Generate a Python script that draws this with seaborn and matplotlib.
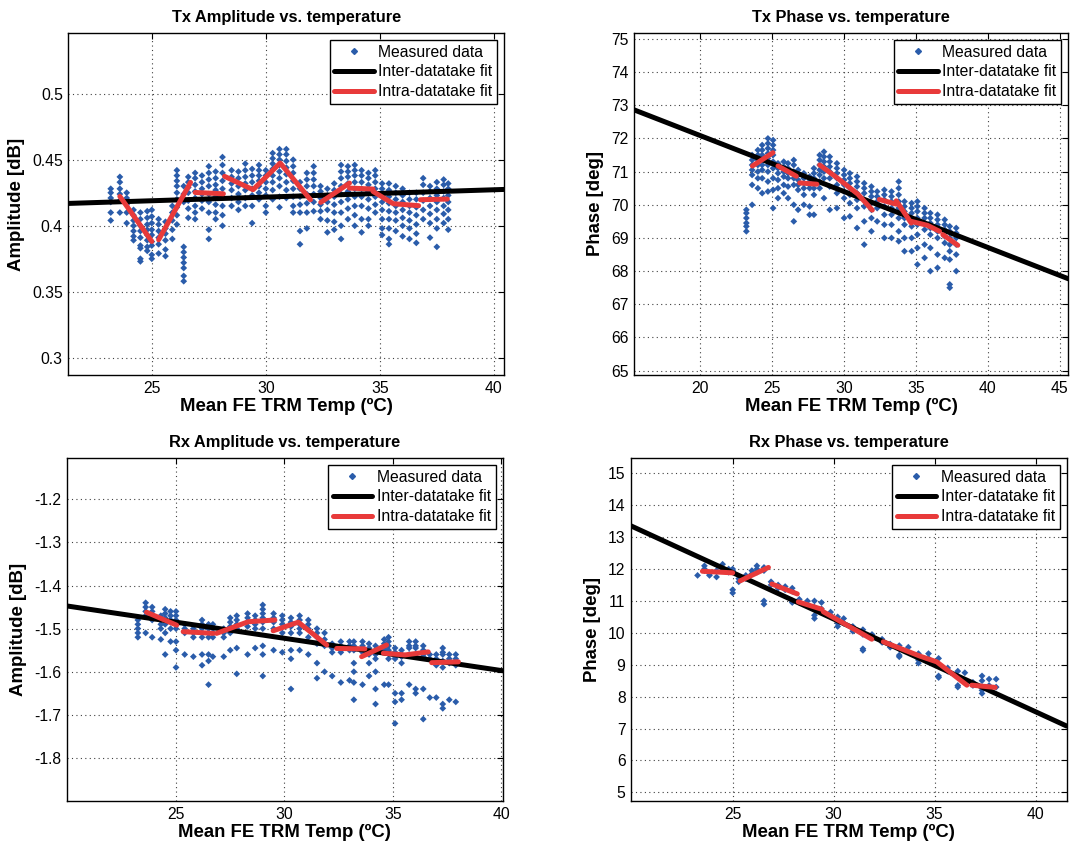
import matplotlib
matplotlib.use("Agg")
import matplotlib.pyplot as plt
import pandas as pd
import seaborn as sns
from matplotlib.lines import Line2D

sns.set_style("whitegrid")
plt.rcParams['font.family'] = ['Liberation Sans', 'DejaVu Sans']
plt.rcParams['text.color'] = 'black'
plt.rcParams['axes.labelcolor'] = 'black'

BLUE = '#2a5caa'
RED = '#e83a3a'

# ---------------- Tx amplitude ----------------
tx_amp_temps = [23.2, 23.6, 23.9, 24.2, 24.5, 24.8, 25.0, 25.3, 25.6, 25.9, 26.1, 26.4, 26.6,
                26.9, 27.2, 27.5, 27.8, 28.1, 28.5, 28.8, 29.1, 29.4, 29.7, 30.0, 30.3, 30.6,
                30.9, 31.2, 31.5, 31.8, 32.1, 32.4, 32.7, 33.0, 33.3, 33.6, 33.9, 34.2, 34.5,
                34.8, 35.1, 35.4, 35.7, 36.0, 36.3, 36.6, 36.9, 37.2, 37.5, 37.8, 38.0]
tx_amp_values = [
    [0.428, 0.425, 0.421, 0.418, 0.41, 0.404],
    [0.437, 0.433, 0.428, 0.424, 0.419, 0.41],
    [0.425, 0.421, 0.416, 0.41, 0.402],
    [0.412, 0.408, 0.404, 0.40, 0.396, 0.392, 0.389],
    [0.41, 0.405, 0.40, 0.396, 0.391, 0.385, 0.383, 0.375, 0.373],
    [0.411, 0.406, 0.401, 0.397, 0.393, 0.389, 0.384, 0.381],
    [0.412, 0.407, 0.402, 0.397, 0.393, 0.388, 0.385, 0.378, 0.375],
    [0.405, 0.401, 0.396, 0.391, 0.386, 0.379],
    [0.403, 0.398, 0.394, 0.389, 0.382, 0.377],
    [0.415, 0.41, 0.404, 0.397, 0.39],
    [0.442, 0.438, 0.434, 0.43, 0.425, 0.42, 0.414, 0.408, 0.401],
    [0.43, 0.424, 0.418, 0.384, 0.38, 0.376, 0.372, 0.368, 0.362, 0.358],
    [0.437, 0.433, 0.429, 0.425, 0.419, 0.413, 0.406],
    [0.44, 0.436, 0.431, 0.426, 0.421, 0.415, 0.41, 0.405],
    [0.438, 0.433, 0.428, 0.424, 0.419, 0.413],
    [0.445, 0.44, 0.435, 0.43, 0.424, 0.418, 0.41, 0.397, 0.39],
    [0.441, 0.436, 0.431, 0.427, 0.422, 0.416, 0.41, 0.405],
    [0.452, 0.446, 0.44, 0.434, 0.428, 0.422, 0.415, 0.408, 0.40],
    [0.442, 0.437, 0.432, 0.427, 0.421, 0.415],
    [0.441, 0.436, 0.43, 0.424, 0.418, 0.412],
    [0.447, 0.442, 0.437, 0.432, 0.427, 0.421, 0.415],
    [0.443, 0.438, 0.433, 0.428, 0.423, 0.415, 0.402],
    [0.446, 0.442, 0.438, 0.434, 0.43, 0.425, 0.42],
    [0.442, 0.438, 0.433, 0.428, 0.423, 0.415, 0.41],
    [0.455, 0.451, 0.447, 0.443, 0.438, 0.433, 0.427, 0.42],
    [0.458, 0.454, 0.45, 0.446, 0.441, 0.436, 0.43, 0.422, 0.414],
    [0.458, 0.454, 0.449, 0.444, 0.439, 0.433, 0.427, 0.421],
    [0.45, 0.445, 0.44, 0.434, 0.428, 0.422, 0.415, 0.41],
    [0.433, 0.428, 0.422, 0.416, 0.41, 0.396, 0.386],
    [0.44, 0.435, 0.43, 0.424, 0.417, 0.41, 0.398],
    [0.445, 0.44, 0.435, 0.43, 0.424, 0.418, 0.411],
    [0.43, 0.426, 0.421, 0.416, 0.411, 0.405],
    [0.428, 0.423, 0.418, 0.412, 0.404, 0.395],
    [0.432, 0.427, 0.422, 0.416, 0.41, 0.403, 0.397],
    [0.446, 0.441, 0.436, 0.43, 0.424, 0.418, 0.41, 0.40, 0.39],
    [0.445, 0.441, 0.437, 0.432, 0.426, 0.42, 0.413, 0.405],
    [0.446, 0.442, 0.438, 0.433, 0.428, 0.422, 0.415, 0.408, 0.40],
    [0.442, 0.438, 0.433, 0.428, 0.422, 0.415, 0.405, 0.395],
    [0.44, 0.436, 0.431, 0.426, 0.42, 0.413, 0.405, 0.40],
    [0.442, 0.438, 0.433, 0.428, 0.422, 0.416, 0.41],
    [0.432, 0.428, 0.423, 0.418, 0.412, 0.405, 0.398, 0.393],
    [0.432, 0.427, 0.422, 0.417, 0.411, 0.405, 0.398, 0.39, 0.386],
    [0.43, 0.425, 0.42, 0.415, 0.41, 0.404, 0.396],
    [0.428, 0.423, 0.418, 0.412, 0.406, 0.40, 0.392],
    [0.425, 0.42, 0.415, 0.41, 0.404, 0.398, 0.39],
    [0.425, 0.42, 0.414, 0.408, 0.401, 0.394, 0.387],
    [0.436, 0.431, 0.425, 0.419, 0.412, 0.405],
    [0.43, 0.426, 0.421, 0.415, 0.409, 0.402, 0.391],
    [0.433, 0.428, 0.423, 0.418, 0.412, 0.405, 0.398, 0.384],
    [0.435, 0.431, 0.426, 0.421, 0.415, 0.409, 0.402],
    [0.432, 0.428, 0.423, 0.418, 0.412, 0.405, 0.397],
]
tx_amp_fit_t = [21.34, 40.46]
tx_amp_fit_v = [0.4169, 0.4275]
tx_amp_seg_t = [[23.6, 25.0], [25.3, 26.7], [26.9, 28.14], [28.19, 29.44, 30.63, 31.96],
                [32.41, 33.67], [33.67, 34.7], [34.7, 35.59, 36.7], [36.78, 37.96]]
tx_amp_seg_v = [[0.4222, 0.3881], [0.3894, 0.4328], [0.4252, 0.4242], [0.4374, 0.4273, 0.4475, 0.4197],
                [0.4177, 0.4323], [0.4285, 0.4278], [0.4260, 0.4167, 0.4152], [0.4197, 0.4202]]

# ---------------- Tx phase ----------------
tx_ph_temps = [23.2, 23.6, 24.0, 24.3, 24.7, 25.06, 25.4, 25.8, 26.1, 26.5, 26.8, 27.2, 27.6,
               27.9, 28.3, 28.6, 29.0, 29.5, 30.0, 30.4, 30.9, 31.4, 31.9, 32.3, 32.8, 33.3,
               33.8, 34.2, 34.7, 35.1, 35.6, 36.0, 36.5, 37.0, 37.35, 37.8]
tx_ph_values = [
    [69.85, 69.75, 69.6, 69.45, 69.35, 69.2],
    [71.5, 71.35, 71.2, 71.05, 70.9, 70.6, 70.0],
    [71.65, 71.5, 71.35, 71.2, 71.0, 70.8, 70.5],
    [71.8, 71.65, 71.5, 71.35, 71.2, 71.05, 70.8, 70.35],
    [72.0, 71.85, 71.7, 71.55, 71.4, 71.2, 71.0, 70.7, 70.4],
    [71.95, 71.8, 71.65, 71.5, 71.3, 71.1, 70.8, 70.45, 69.9],
    [71.25, 71.1, 70.95, 70.75, 70.5, 70.2],
    [71.3, 71.15, 71.0, 70.85, 70.6, 70.35],
    [71.25, 71.1, 70.95, 70.8, 70.55, 70.2],
    [71.35, 71.2, 71.0, 70.8, 70.6, 70.0, 69.5],
    [71.05, 70.9, 70.75, 70.6, 70.45, 69.85],
    [70.95, 70.8, 70.65, 70.5, 70.3, 70.0],
    [70.85, 70.7, 70.6, 70.5, 69.95, 69.7],
    [71.1, 70.95, 70.8, 70.65, 70.5, 70.3, 69.7],
    [71.5, 71.35, 71.2, 71.05, 70.9, 70.7, 70.5],
    [71.6, 71.45, 71.3, 71.15, 71.0, 70.8, 70.2],
    [71.45, 71.3, 71.15, 71.0, 70.8, 70.55, 69.85],
    [71.25, 71.1, 70.95, 70.8, 70.6, 70.35, 69.9],
    [71.05, 70.9, 70.75, 70.6, 70.4, 70.2, 69.6],
    [70.95, 70.8, 70.65, 70.5, 70.3, 70.05, 69.65],
    [70.85, 70.7, 70.55, 70.35, 70.15, 69.9, 69.3],
    [70.65, 70.5, 70.35, 70.15, 69.95, 69.5, 68.8],
    [70.55, 70.4, 70.25, 70.05, 69.85, 69.6, 69.2],
    [70.4, 70.25, 70.1, 69.9, 69.5],
    [70.45, 70.3, 70.15, 69.95, 69.7, 69.4, 69.0],
    [70.4, 70.25, 70.1, 69.9, 69.7, 69.4, 69.0],
    [70.7, 70.5, 70.3, 70.1, 69.9, 69.6, 69.2, 68.9],
    [70.1, 69.95, 69.8, 69.6, 69.4, 69.0, 68.6],
    [70.05, 69.9, 69.75, 69.55, 69.35, 69.0, 68.6],
    [70.1, 69.95, 69.8, 69.6, 69.4, 69.1, 68.7, 68.2],
    [69.9, 69.75, 69.6, 69.45, 69.25, 68.8, 68.4],
    [69.75, 69.6, 69.45, 69.3, 69.1, 68.7, 68.0],
    [69.7, 69.55, 69.4, 69.2, 69.0, 68.5, 68.1],
    [69.55, 69.4, 69.25, 69.05, 68.85, 68.4],
    [69.35, 69.2, 69.0, 68.8, 68.6, 68.35, 67.6, 67.5],
    [69.3, 69.15, 69.0, 68.8, 68.5, 68.0],
]
tx_ph_fit_t = [15.4, 45.6]
tx_ph_fit_v = [72.86, 67.77]
tx_ph_seg_t = [[23.62, 25.05], [25.4, 26.68], [26.91, 28.11], [28.3, 29.46, 30.96, 31.96],
               [32.45, 33.63], [33.63, 34.67], [34.67, 35.8, 36.64], [36.87, 37.91]]
tx_ph_seg_v = [[71.17, 71.57], [71.17, 70.86], [70.66, 70.62], [71.2, 70.83, 70.32, 69.84],
               [70.16, 70.02], [70.12, 69.45], [69.5, 69.38, 69.2], [69.1, 68.78]]

# ---------------- Rx amplitude ----------------
rx_amp_temps = [23.24, 23.6, 23.9, 24.3, 24.5, 24.75, 25.0, 25.4, 25.8, 26.2, 26.5, 26.7, 27.2,
                27.5, 27.8, 28.3, 28.65, 29.0, 29.5, 29.9, 30.3, 30.7, 31.1, 31.5, 31.85, 32.2,
                32.6, 33.0, 33.2, 33.6, 33.9, 34.2, 34.6, 34.8, 35.1, 35.4, 35.75, 36.05, 36.4,
                36.7, 37.0, 37.3, 37.6, 37.9]
rx_amp_values = [
    [-1.48, -1.49, -1.50, -1.51, -1.52],
    [-1.44, -1.45, -1.46, -1.47, -1.51],
    [-1.45, -1.46, -1.47, -1.48, -1.52],
    [-1.47, -1.48, -1.49, -1.50, -1.525],
    [-1.455, -1.465, -1.475, -1.49, -1.51, -1.56],
    [-1.46, -1.47, -1.48, -1.50, -1.53],
    [-1.46, -1.47, -1.48, -1.50, -1.53, -1.55, -1.59],
    [-1.49, -1.50, -1.51, -1.56],
    [-1.50, -1.51, -1.52, -1.565],
    [-1.48, -1.49, -1.50, -1.51, -1.52, -1.56, -1.585],
    [-1.49, -1.50, -1.51, -1.52, -1.56, -1.575, -1.63],
    [-1.49, -1.50, -1.51, -1.52, -1.565],
    [-1.50, -1.51, -1.52, -1.565],
    [-1.475, -1.485, -1.495, -1.51, -1.55],
    [-1.47, -1.48, -1.49, -1.50, -1.545, -1.605],
    [-1.465, -1.475, -1.485, -1.495, -1.56],
    [-1.47, -1.48, -1.49, -1.50, -1.545],
    [-1.445, -1.455, -1.465, -1.475, -1.485, -1.50, -1.54, -1.56, -1.61],
    [-1.465, -1.475, -1.485, -1.50, -1.55],
    [-1.47, -1.48, -1.49, -1.51, -1.555],
    [-1.475, -1.485, -1.495, -1.51, -1.55, -1.57, -1.64],
    [-1.47, -1.48, -1.49, -1.50, -1.51, -1.55],
    [-1.48, -1.49, -1.50, -1.52, -1.56],
    [-1.50, -1.51, -1.52, -1.535, -1.58, -1.615],
    [-1.51, -1.525, -1.54, -1.60],
    [-1.535, -1.545, -1.555, -1.61],
    [-1.53, -1.54, -1.55, -1.555, -1.625],
    [-1.53, -1.54, -1.55, -1.62],
    [-1.53, -1.54, -1.55, -1.58, -1.60, -1.625, -1.665],
    [-1.53, -1.54, -1.55, -1.555, -1.63],
    [-1.535, -1.545, -1.555, -1.56, -1.58, -1.61],
    [-1.54, -1.55, -1.56, -1.57, -1.60, -1.64, -1.675],
    [-1.525, -1.535, -1.545, -1.55, -1.63],
    [-1.52, -1.53, -1.54, -1.55, -1.57, -1.63],
    [-1.545, -1.555, -1.565, -1.57, -1.65, -1.67, -1.72],
    [-1.55, -1.56, -1.565, -1.58, -1.65, -1.665],
    [-1.53, -1.54, -1.545, -1.56, -1.63],
    [-1.53, -1.54, -1.545, -1.56, -1.64, -1.65],
    [-1.54, -1.55, -1.56, -1.565, -1.64, -1.71],
    [-1.56, -1.57, -1.66],
    [-1.56, -1.57, -1.585, -1.66],
    [-1.545, -1.555, -1.56, -1.575, -1.59, -1.675, -1.685],
    [-1.56, -1.57, -1.58, -1.665],
    [-1.56, -1.57, -1.585, -1.67],
]
rx_amp_fit_t = [19.97, 40.06]
rx_amp_fit_v = [-1.4474, -1.5977]
rx_amp_seg_t = [[23.64, 25.03], [25.33, 26.72], [26.87, 28.33, 29.56], [29.48, 30.64, 31.95],
                [32.41, 33.71], [33.56, 34.71], [34.56, 35.56, 36.63], [36.79, 38.02]]
rx_amp_seg_v = [[-1.462, -1.492], [-1.507, -1.511], [-1.511, -1.484, -1.480], [-1.505, -1.485, -1.538],
                [-1.546, -1.547], [-1.565, -1.538], [-1.557, -1.561, -1.554], [-1.579, -1.577]]

# ---------------- Rx phase ----------------
rx_ph_temps = [23.26, 23.6, 23.85, 24.2, 24.5, 24.8, 25.0, 25.3, 25.65, 25.95, 26.2, 26.55, 26.9,
               27.25, 27.6, 27.95, 28.3, 28.7, 29.05, 29.4, 29.85, 30.2, 30.5, 30.95, 31.45,
               31.9, 32.4, 32.8, 33.25, 33.7, 34.2, 34.7, 35.2, 35.65, 36.15, 36.5, 36.9,
               37.35, 37.7, 38.05]
rx_ph_values = [
    [11.8], [12.1, 12.0, 11.95], [11.85, 11.8], [11.95, 11.75], [12.15, 12.0, 11.95],
    [11.9, 12.0], [12.0, 11.95, 11.35, 11.25], [11.6, 11.7], [11.8, 11.7, 11.75],
    [11.95, 11.85], [12.1, 12.0, 11.9], [12.05, 11.95, 11.0, 10.9], [11.6, 11.5],
    [11.5, 11.4], [11.45, 11.35], [11.4, 11.3, 11.0, 10.95], [11.05, 10.95], [11.0, 10.9],
    [11.0, 10.8, 10.55, 10.45], [10.95, 10.75], [10.65, 10.55], [10.5, 10.3, 10.2],
    [10.45, 10.3], [10.2, 10.05], [10.1, 9.95, 9.5, 9.45], [9.95, 9.85], [9.8, 9.7],
    [9.65, 9.55], [9.6, 9.5, 9.3, 9.25], [9.55, 9.4], [9.35, 9.15, 9.05], [9.35, 9.2],
    [9.2, 9.0, 8.65, 8.6], [8.9, 8.8], [8.8, 8.6, 8.35, 8.3], [8.75, 8.5], [8.45, 8.35],
    [8.65, 8.5, 8.2, 8.1], [8.55, 8.35, 8.25], [8.55, 8.3],
]
rx_ph_fit_t = [19.97, 41.54]
rx_ph_fit_v = [13.35, 7.08]
rx_ph_seg_t = [[23.5, 25.0], [25.37, 26.77], [26.94, 28.2], [28.25, 29.41], [29.49, 31.89],
               [32.46, 34.28, 35.11, 36.6], [36.84, 38.0]]
rx_ph_seg_v = [[11.93, 11.88], [11.63, 12.05], [11.53, 11.22], [10.97, 10.74], [10.66, 9.80],
               [9.72, 9.27, 9.09, 8.36], [8.36, 8.29]]

legend_labels = ['Measured data', 'Inter-datatake fit', 'Intra-datatake fit']
xlabel = 'Mean FE TRM Temp (ºC)'


def to_frame(temps, cols):
    t, v = [], []
    for x, vals in zip(temps, cols):
        t += [x] * len(vals)
        v += vals
    return pd.DataFrame({'temp': t, 'value': v})


def draw(ax, temps, cols, fit_t, fit_v, seg_t, seg_v, title, ylabel,
         xlim, ylim, xticks, yticks, yticklabels):
    df = to_frame(temps, cols)
    sns.scatterplot(data=df, x='temp', y='value', ax=ax, marker='D', s=12,
                    color=BLUE, edgecolor='none', linewidth=0, zorder=3, legend=False)
    sns.lineplot(x=fit_t, y=fit_v, ax=ax, color='black', lw=3.6, zorder=4)
    for st, sv in zip(seg_t, seg_v):
        sns.lineplot(x=st, y=sv, ax=ax, color=RED, lw=3.6, sort=False,
                     estimator=None, zorder=5)

    ax.set_xlim(xlim)
    ax.set_ylim(ylim)
    ax.set_xticks(xticks, labels=[str(x) for x in xticks])
    ax.set_yticks(yticks, labels=yticklabels)
    ax.grid(True, ls=(0, (1, 3)), color='0.25', lw=0.8)
    for s in ax.spines.values():
        s.set_color('black')
        s.set_linewidth(1.0)
    ax.tick_params(direction='in', length=4, width=0.8, top=True, right=True,
                   labelsize=11.3, colors='black', pad=4)
    ax.set_title(title, fontsize=11.8, fontweight='bold', pad=8, color='black')
    ax.set_xlabel(xlabel, fontsize=13.4, fontweight='bold', labelpad=2)
    ax.set_ylabel(ylabel, fontsize=13.4, fontweight='bold', labelpad=5)

    handles = [Line2D([], [], ls='none', marker='D', ms=3, color=BLUE),
               Line2D([], [], color='black', lw=3.6),
               Line2D([], [], color=RED, lw=3.6)]
    leg = ax.legend(handles, legend_labels, loc='upper right', fontsize=11.3,
                    frameon=True, fancybox=False, framealpha=1, edgecolor='black',
                    handlelength=2.5, handletextpad=0.3, labelspacing=0.3,
                    borderpad=0.3, borderaxespad=0.45)
    leg.get_frame().set_linewidth(1.0)
    for txt in leg.get_texts():
        txt.set_color('black')


fig = plt.figure(figsize=(10.71, 8.47), dpi=100)
ax1 = fig.add_axes([0.0638, 0.5573, 0.4071, 0.4038])
ax2 = fig.add_axes([0.5922, 0.5573, 0.4053, 0.4038])
ax3 = fig.add_axes([0.0625, 0.0543, 0.4068, 0.4050])
ax4 = fig.add_axes([0.5893, 0.0543, 0.4066, 0.4050])

draw(ax1, tx_amp_temps, tx_amp_values, tx_amp_fit_t, tx_amp_fit_v, tx_amp_seg_t, tx_amp_seg_v,
     'Tx Amplitude vs. temperature', 'Amplitude [dB]', (21.34, 40.46), (0.287, 0.546),
     [25, 30, 35, 40], [0.3, 0.35, 0.4, 0.45, 0.5], ['0.3', '0.35', '0.4', '0.45', '0.5'])
draw(ax2, tx_ph_temps, tx_ph_values, tx_ph_fit_t, tx_ph_fit_v, tx_ph_seg_t, tx_ph_seg_v,
     'Tx Phase vs. temperature', 'Phase [deg]', (15.4, 45.6), (64.87, 75.18),
     [20, 25, 30, 35, 40, 45], list(range(65, 76)), [str(v) for v in range(65, 76)])
draw(ax3, rx_amp_temps, rx_amp_values, rx_amp_fit_t, rx_amp_fit_v, rx_amp_seg_t, rx_amp_seg_v,
     'Rx Amplitude vs. temperature', 'Amplitude [dB]', (19.97, 40.06), (-1.9, -1.104),
     [25, 30, 35, 40], [-1.8, -1.7, -1.6, -1.5, -1.4, -1.3, -1.2],
     ['-1.8', '-1.7', '-1.6', '-1.5', '-1.4', '-1.3', '-1.2'])
draw(ax4, rx_ph_temps, rx_ph_values, rx_ph_fit_t, rx_ph_fit_v, rx_ph_seg_t, rx_ph_seg_v,
     'Rx Phase vs. temperature', 'Phase [deg]', (19.97, 41.54), (4.73, 15.48),
     [25, 30, 35, 40], list(range(5, 16)), [str(v) for v in range(5, 16)])

fig.savefig('out.png', dpi=100)
